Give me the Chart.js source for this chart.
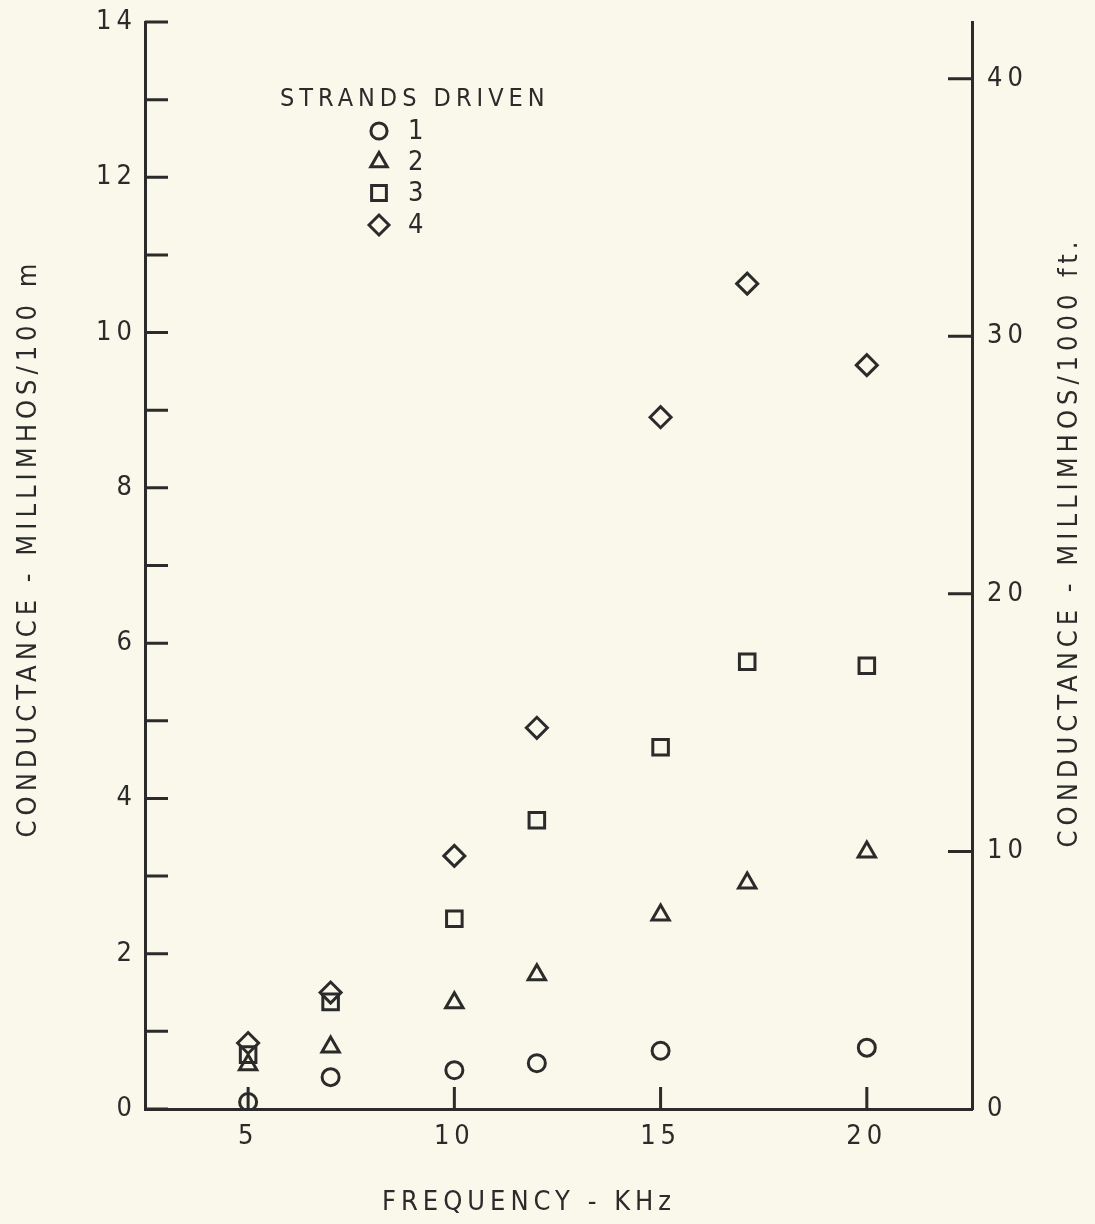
<!DOCTYPE html>
<html>
<head>
<meta charset="utf-8">
<script src="https://cdn.jsdelivr.net/npm/chart.js@4.4.1/dist/chart.umd.min.js"></script>
<style>
  html, body { margin: 0; padding: 0; background: #f9f8ea; }
  canvas { display: block; }
</style>
</head>
<body>
<canvas id="condChart" width="1095" height="1224"></canvas>
<script>
// frequency in kHz
const freqs = [5, 7, 10, 12, 15, 17.1, 20];
// conductance, millimhos / 100 m, one list per number of strands driven
const strands1 = [0.09, 0.41, 0.50, 0.59, 0.75, null, 0.79];
const strands2 = [0.57, 0.80, 1.37, 1.73, 2.50, 2.91, 3.31];
const strands3 = [0.70, 1.38, 2.45, 3.72, 4.66, 5.76, 5.71];
const strands4 = [0.85, 1.50, 3.26, 4.91, 8.91, 10.63, 9.58];

const xTicks = [5, 10, 15, 20];
const leftTicks = [0, 2, 4, 6, 8, 10, 12, 14];
const leftMinor = [1, 3, 5, 7, 9, 11, 13];
const rightTicks = [0, 10, 20, 30, 40];
const rightMarked = [10, 20, 30, 40];

const ink = '#2b2b2b';
const family = "'Liberation Sans Narrow', 'DejaVu Sans Condensed', 'Roboto Condensed', 'Liberation Sans', sans-serif";
const tickFont = { family: family, size: 27 };
const spacing = '5px';

function pts(ys) {
  const out = [];
  ys.forEach((y, i) => { if (y !== null) out.push({ x: freqs[i], y: y }); });
  return out;
}

function series(label, ys, style, r) {
  return {
    label: label,
    data: pts(ys),
    pointStyle: style,
    pointRadius: r,
    pointHoverRadius: r,
    pointBorderWidth: 3,
    pointBorderColor: ink,
    pointBackgroundColor: 'rgba(0,0,0,0)',
    showLine: false
  };
}

const datasets = [
  series('1', strands1, 'circle', 8.5),
  series('2', strands2, 'triangle', 10),
  series('3', strands3, 'rect', 11),
  series('4', strands4, 'rectRot', 10.5)
];

// canvas letter spacing for the typed-looking lettering
const letterSpacing = {
  id: 'letterSpacing',
  beforeLayout(chart) { chart.ctx.letterSpacing = spacing; },
  beforeDraw(chart) { chart.ctx.letterSpacing = spacing; }
};

// ticks pointing into the plot, like the original drawing
const inwardTicks = {
  id: 'inwardTicks',
  afterDraw(chart) {
    const { ctx, chartArea, scales } = chart;
    ctx.save();
    ctx.strokeStyle = ink;
    ctx.lineWidth = 3;
    ctx.beginPath();
    xTicks.forEach(v => {
      const px = scales.x.getPixelForValue(v);
      ctx.moveTo(px, chartArea.bottom);
      ctx.lineTo(px, chartArea.bottom - 22);
    });
    leftTicks.concat(leftMinor).forEach(v => {
      const py = scales.y.getPixelForValue(v);
      ctx.moveTo(chartArea.left, py);
      ctx.lineTo(chartArea.left + 23, py);
    });
    rightMarked.forEach(v => {
      const py = scales.y2.getPixelForValue(v);
      ctx.moveTo(chartArea.right, py);
      ctx.lineTo(chartArea.right - 24, py);
    });
    ctx.stroke();
    ctx.restore();
  }
};

// axis titles and the "strands driven" key
const labels = {
  id: 'labels',
  afterDraw(chart) {
    const ctx = chart.ctx;
    ctx.save();
    ctx.fillStyle = ink;
    ctx.letterSpacing = spacing;
    ctx.font = '27px ' + family;
    ctx.textBaseline = 'middle';

    ctx.textAlign = 'left';
    ctx.fillText('FREQUENCY - KHz', 382, 1203);

    ctx.save();
    ctx.translate(29, 548);
    ctx.rotate(-Math.PI / 2);
    ctx.textAlign = 'center';
    ctx.fillText('CONDUCTANCE - MILLIMHOS/100 m', 0, 0);
    ctx.restore();

    ctx.save();
    ctx.translate(1070, 542);
    ctx.rotate(-Math.PI / 2);
    ctx.textAlign = 'center';
    ctx.fillText('CONDUCTANCE - MILLIMHOS/1000 ft.', 0, 0);
    ctx.restore();

    ctx.font = '25px ' + family;
    ctx.textAlign = 'left';
    ctx.fillText('STRANDS DRIVEN', 280, 99);
    const rows = [131, 162, 193, 225];
    ctx.strokeStyle = ink;
    ctx.lineWidth = 3;
    ctx.font = '27px ' + family;
    chart.data.datasets.forEach((ds, i) => {
      ctx.fillStyle = 'rgba(0,0,0,0)';
      Chart.helpers.drawPoint(ctx, {
        pointStyle: ds.pointStyle,
        radius: ds.pointRadius * 0.95,
        borderWidth: 3,
        rotation: 0
      }, 379, rows[i]);
      ctx.fillStyle = ink;
      ctx.fillText(ds.label, 408, rows[i] + 1);
    });
    ctx.restore();
  }
};

function noPad(s) {
  s.paddingTop = 0;
  s.paddingBottom = 0;
  s.paddingLeft = 0;
  s.paddingRight = 0;
}

new Chart(document.getElementById('condChart'), {
  type: 'scatter',
  data: { datasets: datasets },
  options: {
    responsive: false,
    animation: false,
    devicePixelRatio: 1,
    layout: { padding: { top: 22, left: 0, right: 0, bottom: 0 } },
    plugins: {
      legend: { display: false },
      tooltip: { enabled: false }
    },
    scales: {
      x: {
        type: 'linear',
        position: 'bottom',
        min: 2.5,
        max: 22.55,
        afterBuildTicks: s => { s.ticks = xTicks.map(v => ({ value: v })); },
        afterFit: s => { s.height = 115; noPad(s); },
        grid: { display: false, drawTicks: false },
        border: { display: true, color: ink, width: 3 },
        ticks: { color: ink, font: tickFont, padding: 12, maxRotation: 0 }
      },
      y: {
        type: 'linear',
        position: 'left',
        min: 0,
        max: 14,
        afterBuildTicks: s => { s.ticks = leftTicks.map(v => ({ value: v })); },
        afterFit: s => { s.width = 145; noPad(s); },
        grid: { display: false, drawTicks: false },
        border: { display: true, color: ink, width: 3 },
        ticks: { color: ink, font: tickFont, padding: 8 }
      },
      y2: {
        type: 'linear',
        position: 'right',
        min: 0,
        max: 42.2,
        afterBuildTicks: s => { s.ticks = rightTicks.map(v => ({ value: v })); },
        afterFit: s => { s.width = 123; noPad(s); },
        grid: { display: false, drawTicks: false },
        border: { display: true, color: ink, width: 3 },
        ticks: { color: ink, font: tickFont, padding: 15 }
      }
    }
  },
  plugins: [letterSpacing, inwardTicks, labels]
});
</script>
</body>
</html>
